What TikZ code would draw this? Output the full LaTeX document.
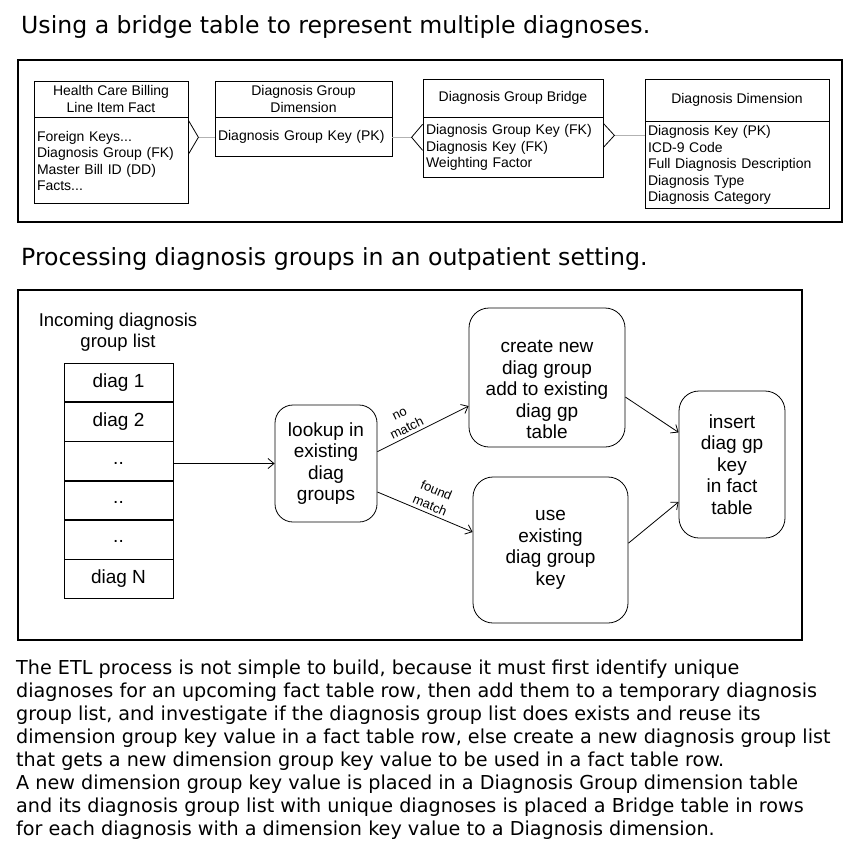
\documentclass[tikz,border=0pt]{standalone}
\usepackage{fontspec}
\setmainfont{Liberation Sans}
\newfontfamily\webfont{DejaVu Sans}
\usetikzlibrary{positioning,arrows.meta}
\tikzset{
  tblhead/.style={draw, thick, align=center, inner sep=2pt, font=\fontsize{14}{16.5}\selectfont},
  tblbody/.style={draw, thick, align=left, inner sep=3pt, font=\fontsize{14}{16.5}\selectfont},
  link/.style={draw=gray!60, line width=1.5pt},
  crow/.style={line width=0.8pt},
  diagrow/.style={draw, thick, minimum width=109pt, minimum height=38.5pt, font=\fontsize{19}{22}\selectfont},
  stepbox/.style={draw, thick, rounded corners=20pt, align=center, font=\fontsize{19}{21.5}\selectfont},
  flow/.style={-{Straight Barb[length=6pt,width=10pt]}, line width=0.8pt},
  edgetext/.style={font=\fontsize{13}{16.5}\selectfont, align=center, inner sep=3pt}
}

\begin{document}
\begin{tikzpicture}[x=1pt,y=-1pt]
  \useasboundingbox[fill=white] (0,0) rectangle (860,854);

  % headings
  \node[anchor=base west, inner sep=0pt, font=\webfont\fontsize{23.6}{28}\selectfont] (title1) at (21,33) {Using a bridge table to represent multiple diagnoses.};
  \node[anchor=base west, inner sep=0pt, font=\webfont\fontsize{23.6}{28}\selectfont] (title2) at (21,265) {Processing diagnosis groups in an outpatient setting.};

  % bridge table schema
  \draw[line width=1.3pt] (18,60) rectangle (842,222);
  \node[tblhead, minimum width=154pt, minimum height=36pt] (facth) at (111,99) {Health Care Billing\\Line Item Fact};
  \node[tblbody, below=0pt of facth, text width=148pt, minimum height=86pt] (factb) {Foreign Keys...\\Diagnosis Group (FK)\\Master Bill ID (DD)\\Facts...};
  \node[tblhead, minimum width=177pt, minimum height=36pt] (grph) at (303.5,99) {Diagnosis Group\\Dimension};
  \node[tblbody, below=0pt of grph, text width=171pt, minimum height=39pt] (grpb) {Diagnosis Group Key (PK)};
  \node[tblhead, minimum width=180pt, minimum height=38pt] (brgh) at (513,98) {Diagnosis Group Bridge};
  \node[tblbody, below=0pt of brgh, text width=174pt, minimum height=60pt] (brgb) {Diagnosis Group Key (FK)\\Diagnosis Key (FK)\\Weighting Factor};
  \node[tblhead, minimum width=184pt, minimum height=42pt] (dimh) at (737,100) {Diagnosis Dimension};
  \node[tblbody, below=0pt of dimh, text width=178pt, minimum height=87pt] (dimb) {Diagnosis Key (PK)\\ICD-9 Code\\Full Diagnosis Description\\Diagnosis Type\\Diagnosis Category};

  % many-to-one links
  \draw[link] ([xshift=10pt]factb.east |- grpb.west) coordinate (f1) -- (grpb.west);
  \draw[crow] (f1) ++(-10,-17) -- (f1) -- ++(-10,17);
  \draw[link] (grpb.east) -- ([xshift=-11pt]grpb.east -| brgb.west) coordinate (b1);
  \draw[crow] (b1) ++(11,-13) -- (b1) -- ++(11,13);
  \draw[link] ([xshift=11pt,yshift=-18pt]brgb.north east) coordinate (b2) -- (b2 -| dimb.west);
  \draw[crow] (b2) ++(-11,-12) -- (b2) -- ++(-11,12);

  % outpatient processing
  \draw[line width=1.3pt] (18,290) rectangle (802,640);
  \node[align=center, font=\fontsize{18.5}{21}\selectfont] (inlist) at (118,332) {Incoming diagnosis\\group list};
  \node[diagrow] (row1) at (118.5,382.5) {diag 1};
  \node[diagrow, below=0pt of row1] (row2) {diag 2};
  \node[diagrow, below=0pt of row2] (row3) {\raisebox{-6pt}{..}};
  \node[diagrow, below=0pt of row3] (row4) {\raisebox{-6pt}{..}};
  \node[diagrow, below=0pt of row4] (row5) {\raisebox{-6pt}{..}};
  \node[diagrow, below=0pt of row5] (row6) {diag N};

  \node[stepbox, rounded corners=18pt, minimum width=102pt, minimum height=117pt] (lookup) at (326,463.5) {lookup in\\existing\\diag\\groups};
  \node[stepbox, minimum width=156pt, minimum height=139pt] (create) at (547,377.5) {};
  \node[align=center, font=\fontsize{19}{21.5}\selectfont] at ([yshift=-12pt]create.center) {create new\\diag group\\add to existing\\diag gp\\table};
  \node[stepbox, minimum width=155pt, minimum height=146pt] (use) at (550.5,550) {use\\existing\\diag group\\key};
  \node[stepbox, minimum width=106pt, minimum height=147pt] (insert) at (732,464.5) {insert\\diag gp\\key\\in fact\\table};

  \draw[flow] (row3.east |- lookup.west) -- (lookup.west);
  \draw[flow] (lookup.13) -- node[edgetext, sloped, above, pos=0.36] {no\\match} (create.200);
  \draw[flow] (lookup.331) -- node[edgetext, sloped, above, pos=0.52] {found\\match} (use.167);
  \draw[flow] (create.346) -- (insert.149);
  \draw[flow] (use.5) -- (insert.215);

  % explanation
  \node[anchor=north west, inner sep=0pt, align=left, font=\webfont\fontsize{19.2}{23}\selectfont] (note) at (16,660) {The ETL process is not simple to build, because it must first identify unique\\diagnoses for an upcoming fact table row, then add them to a temporary diagnosis\\group list, and investigate if the diagnosis group list does exists and reuse its\\dimension group key value in a fact table row, else create a new diagnosis group list\\that gets a new dimension group key value to be used in a fact table row.\\A new dimension group key value is placed in a Diagnosis Group dimension table\\and its diagnosis group list with unique diagnoses is placed a Bridge table in rows\\for each diagnosis with a dimension key value to a Diagnosis dimension.};
\end{tikzpicture}
\end{document}
